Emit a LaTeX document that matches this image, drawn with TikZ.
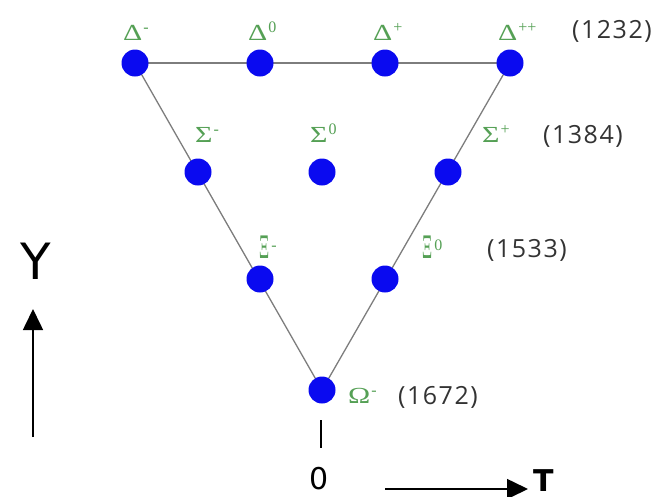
\documentclass[tikz,border=0pt]{standalone}
\usepackage{fontspec}
\newfontfamily\massfont[LetterSpace=6]{Open Sans}
\newfontfamily\axfont{DejaVu Sans}
\newfontfamily\grfont{Liberation Serif}
\usetikzlibrary{arrows.meta,backgrounds}
\definecolor{pgreen}{RGB}{85,160,85}
\definecolor{dotblue}{RGB}{10,10,240}
\definecolor{lgray}{RGB}{125,125,125}
\newcommand{\supx}[1]{\raisebox{8pt}{\fontsize{16}{16}\selectfont #1}}
\newcommand{\pl}[2]{\scalebox{1.3}[1]{#1}\hspace{1pt}\supx{#2}}
\newcommand{\plxi}[1]{\scalebox{0.68}[1.5]{Ξ}\hspace{2pt}\supx{#1}}
\begin{document}
\begin{tikzpicture}[x=1pt,y=-1pt,
  dot/.style={circle,fill=dotblue,inner sep=0pt,minimum size=27pt},
  plab/.style={text=pgreen,inner sep=0pt,anchor=base west,font=\grfont\fontsize{23}{25}\selectfont},
  mlab/.style={text=black!80,inner sep=0pt,anchor=west,font=\massfont\fontsize{25}{27}\selectfont},
  edge/.style={draw=lgray,line width=1.3pt},
  axis/.style={draw=black,line width=1.6pt,-{Triangle[length=21pt,width=20pt]}},
  axlab/.style={inner sep=0pt,font=\axfont\bfseries\fontsize{30}{32}\selectfont}]
\useasboundingbox (0,0) rectangle (672,496);
% nodes
\node[dot] (dm) at (135,63) {};
\node[dot] (d0) at (260,63) {};
\node[dot] (dp) at (385,63) {};
\node[dot] (dpp) at (510,63) {};
\node[dot] (sm) at (198,172) {};
\node[dot] (s0) at (322,172) {};
\node[dot] (sp) at (448,172) {};
\node[dot] (xm) at (260,279) {};
\node[dot] (x0) at (385,279) {};
\node[dot] (om) at (322,390) {};
% edges
\begin{pgfonlayer}{background}
\path[edge] (dm.center) -- (dpp.center);
\path[edge] (dm.center) -- (om.center);
\path[edge] (dpp.center) -- (om.center);
\end{pgfonlayer}
% particle labels
\node[plab] (ldm) at (123,40) {\pl{Δ}{-}};
\node[plab] (ld0) at (248,40) {\pl{Δ}{0}};
\node[plab] (ldp) at (373,40) {\pl{Δ}{+}};
\node[plab] (ldpp) at (498,40) {\pl{Δ}{++}};
\node[plab] (lsm) at (195,142) {\pl{Σ}{-}};
\node[plab] (ls0) at (310,142) {\pl{Σ}{0}};
\node[plab] (lsp) at (482,142) {\pl{Σ}{+}};
\node[plab] (lxm) at (259,258) {\plxi{-}};
\node[plab] (lx0) at (422,258) {\plxi{0}};
\node[plab] (lom) at (348,403) {\pl{Ω}{-}};
% masses
\node[mlab] (m1) at (572,31) {(1232)};
\node[mlab] (m2) at (543,136) {(1384)};
\node[mlab] (m3) at (487,250) {(1533)};
\node[mlab] (m4) at (398,397) {(1672)};
% axes
\node[inner sep=0pt,font=\axfont\fontsize{50}{52}\selectfont] (ylab) at (36,261) {Y};
\coordinate (ybot) at (33,437);
\coordinate (ytop) at (33,309);
\draw[axis] (ybot) -- (ytop);
\coordinate (tk1) at (321,420);
\coordinate (tk2) at (321,448);
\draw[line width=1.6pt] (tk1) -- (tk2);
\node[inner sep=0pt,font=\axfont\fontsize{30}{32}\selectfont] (zero) at (319,479) {0};
\coordinate (tl) at (385,489);
\coordinate (tr) at (528,489);
\draw[axis] (tl) -- (tr);
\node[axlab,anchor=north west] (tlab) at (533,469) {T};
\end{tikzpicture}
\end{document}
